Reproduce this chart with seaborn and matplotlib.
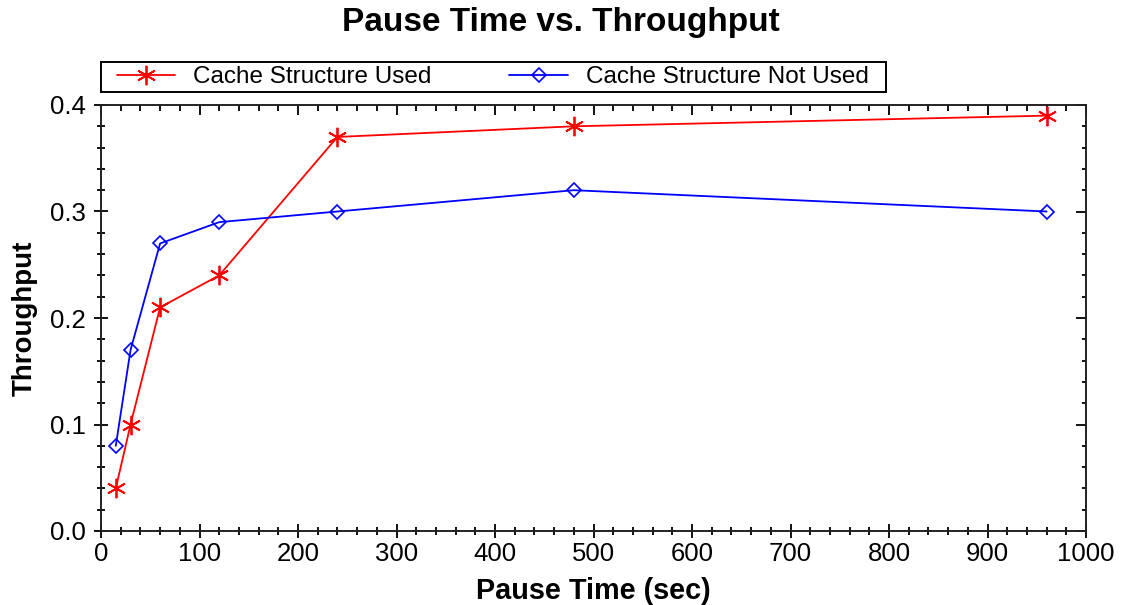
import matplotlib
matplotlib.use("Agg")
import matplotlib.pyplot as plt
import seaborn as sns
from matplotlib.ticker import MultipleLocator, FormatStrFormatter
from matplotlib.patches import Rectangle

pause_time = [15, 30, 60, 120, 240, 480, 960]
used = [0.04, 0.10, 0.21, 0.24, 0.37, 0.38, 0.39]
not_used = [0.08, 0.17, 0.27, 0.29, 0.30, 0.32, 0.30]
series_names = ["Cache Structure Used", "Cache Structure Not Used"]
title = "Pause Time vs. Throughput"
x_label = "Pause Time (sec)"
y_label = "Throughput"

sns.set_style("white")
plt.rcParams['font.family'] = ['Liberation Sans', 'DejaVu Sans']
plt.rcParams.update({'text.color': 'black', 'axes.labelcolor': 'black',
                     'xtick.color': 'black', 'ytick.color': 'black'})

W, H = 1121, 605
fig = plt.figure(figsize=(W/100, H/100), dpi=100)
ax = fig.add_axes([101/W, 74/H, (1086-101)/W, (531-105)/H])

sns.lineplot(x=pause_time, y=used, ax=ax, color="#FF0000", marker=(6, 2, 0),
             markersize=14, markeredgecolor="#FF0000", markeredgewidth=1.3,
             linewidth=1.3, label=series_names[0])
sns.lineplot(x=pause_time, y=not_used, ax=ax, color="#0000FF", marker="D",
             markersize=7, markerfacecolor="none", markeredgecolor="#0000FF",
             markeredgewidth=1.2, linewidth=1.3, label=series_names[1])

ax.set_xlim(0, 1000)
ax.set_ylim(0, 0.4)
ax.xaxis.set_major_locator(MultipleLocator(100))
ax.xaxis.set_minor_locator(MultipleLocator(20))
ax.yaxis.set_major_locator(MultipleLocator(0.1))
ax.yaxis.set_minor_locator(MultipleLocator(0.02))
ax.yaxis.set_major_formatter(FormatStrFormatter('%.1f'))

for s in ax.spines.values():
    s.set_color("#222222")
    s.set_linewidth(1.4)

ax.tick_params(axis='both', which='major', direction='inout', length=10, width=1.4,
               labelsize=18.5, color="#111111", bottom=True, left=True,
               top=False, right=False)
ax.tick_params(axis='both', which='minor', direction='inout', length=6, width=1.4,
               color="#111111", bottom=True, left=True, top=False, right=False)
ax.tick_params(axis='x', which='major', pad=3)
ax.tick_params(axis='y', which='major', pad=6)

ax2 = ax.secondary_xaxis('top')
ax2.xaxis.set_major_locator(MultipleLocator(100))
ax2.xaxis.set_minor_locator(MultipleLocator(20))
ax2.tick_params(which='major', direction='in', length=7, width=1.4, labeltop=False, color="#111111", top=True)
ax2.tick_params(which='minor', direction='in', length=4, width=1.4, color="#111111", top=True)
ax2.spines['top'].set_visible(False)
ay2 = ax.secondary_yaxis('right')
ay2.yaxis.set_major_locator(MultipleLocator(0.1))
ay2.yaxis.set_minor_locator(MultipleLocator(0.02))
ay2.tick_params(which='major', direction='in', length=7, width=1.4, labelright=False, color="#111111", right=True)
ay2.tick_params(which='minor', direction='in', length=3, width=1.4, color="#111111", right=True)
ay2.spines['right'].set_visible(False)

ax.set_xlabel(x_label, fontsize=20.8, fontweight='bold', labelpad=8)
ax.set_ylabel(y_label, fontsize=20, fontweight='bold', labelpad=9)

handles, labels = ax.get_legend_handles_labels()
ax.legend_.remove()
fig.patches.append(Rectangle((101/W, 1 - 92/H), (886-101)/W, 30/H, transform=fig.transFigure,
                             facecolor='white', edgecolor='black', linewidth=1.4, zorder=1))
leg = fig.legend(handles, labels, loc='center left', bbox_to_anchor=(117/W, 1 - 77/H),
                 ncol=2, fontsize=17.5, frameon=False,
                 columnspacing=3.2, handlelength=2.4, borderpad=0, handletextpad=0.74,
                 borderaxespad=0)

fig.suptitle(title, fontsize=24, fontweight='bold', y=1 - 22/H, va='center', x=0.5)

fig.savefig("out.png", dpi=100)
